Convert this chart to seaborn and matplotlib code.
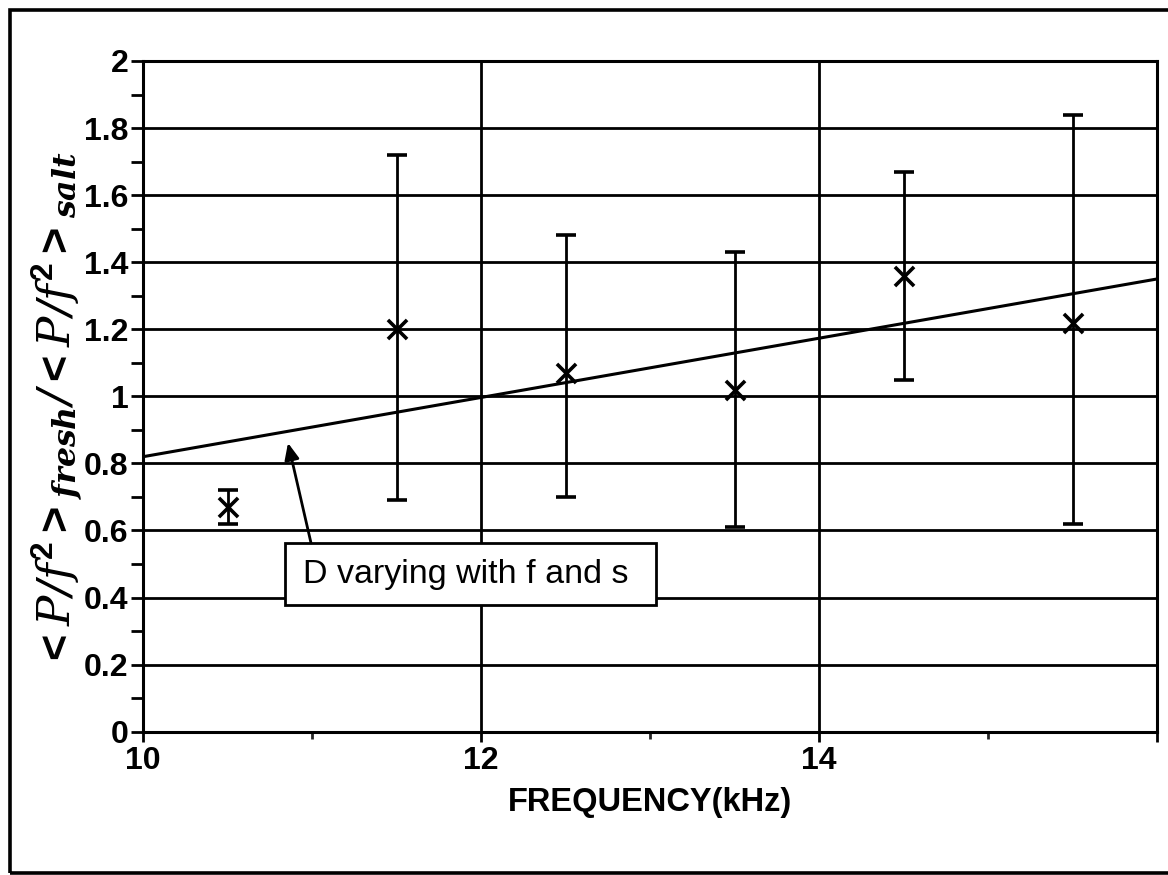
import matplotlib
matplotlib.use("Agg")
import matplotlib.pyplot as plt
from matplotlib.patches import Rectangle
import seaborn as sns
import pandas as pd

# Measured ratio of fresh to salt water <P/f^2> per frequency band
freq = [10.5, 11.5, 12.5, 13.5, 14.5, 15.5]
ratio = [0.67, 1.20, 1.07, 1.02, 1.36, 1.22]
err_low = [0.05, 0.51, 0.37, 0.41, 0.31, 0.60]
err_high = [0.05, 0.52, 0.41, 0.41, 0.31, 0.62]

# Model curve: D varying with f and s
fit_freq = [10.0, 16.0]
fit_ratio = [0.82, 1.35]

x_ticks = [10, 12, 14, 16]
x_tick_labels = ["10", "12", "14", ""]
y_ticks = [0, 0.2, 0.4, 0.6, 0.8, 1.0, 1.2, 1.4, 1.6, 1.8, 2.0]
y_tick_labels = ["0", "0.2", "0.4", "0.6", "0.8", "1", "1.2", "1.4", "1.6", "1.8", "2"]

sns.set_theme(style="white")
plt.rcParams["font.family"] = ["Liberation Sans", "DejaVu Sans"]
plt.rcParams["mathtext.fontset"] = "custom"
plt.rcParams["mathtext.rm"] = "Liberation Sans:bold"
plt.rcParams["mathtext.it"] = "DejaVu Serif:italic"
plt.rcParams["mathtext.bf"] = "DejaVu Serif:italic:bold"
plt.rcParams["mathtext.sf"] = "DejaVu Sans:italic"

W, H = 1168, 875
fig = plt.figure(figsize=(W / 100, H / 100), dpi=100)
ax = fig.add_axes([143 / W, 1 - 731.7 / H, (1157 - 143) / W, (731.7 - 61) / H])

df = pd.DataFrame({"freq": freq, "ratio": ratio})
fit_df = pd.DataFrame({"freq": fit_freq, "ratio": fit_ratio})

ax.errorbar(freq, ratio, yerr=[err_low, err_high], fmt="none", ecolor="black",
            elinewidth=2.0, capsize=7, capthick=2.6, zorder=3)
sns.scatterplot(data=df, x="freq", y="ratio", marker="x", s=190, color="black",
                linewidth=2.6, ax=ax, zorder=4)
sns.lineplot(data=fit_df, x="freq", y="ratio", color="black", linewidth=2.2,
             ax=ax, zorder=3)

ax.set_xlim(10, 16)
ax.set_ylim(0, 2)
ax.set_xticks(x_ticks)
ax.set_xticklabels(x_tick_labels)
ax.set_xticks([11, 13, 15], minor=True)
ax.set_yticks(y_ticks)
ax.set_yticklabels(y_tick_labels)
ax.set_yticks([v / 10 for v in range(1, 20, 2)], minor=True)

ax.grid(True, axis="both", which="major", color="black", linewidth=2.0)
for side in ["left", "right", "top", "bottom"]:
    ax.spines[side].set_visible(True)
    ax.spines[side].set_color("black")
    ax.spines[side].set_linewidth(2.2)

ax.tick_params(axis="y", which="both", direction="out", length=8.6, width=2.0,
               pad=2, left=True, labelsize=23, colors="black")
ax.tick_params(axis="x", which="major", direction="out", length=7, width=2.0,
               pad=3, bottom=True, labelsize=23, colors="black")
ax.tick_params(axis="x", which="minor", direction="out", length=5, width=2.0,
               bottom=True)
for lab in ax.get_xticklabels() + ax.get_yticklabels():
    lab.set_fontweight("bold")

ax.set_xlabel("FREQUENCY(kHz)", fontsize=23.5, fontweight="bold", labelpad=8,
              color="black")
ax.set_ylabel("")

# Callout box with its label and pointer to the model curve
ax.add_patch(Rectangle((10.84, 0.378), 13.035 - 10.84, 0.563 - 0.378,
                       fc="white", ec="black", lw=2.0, zorder=5))
ax.text(11.908, 0.470, "D varying with f and s", ha="center", va="center",
        fontsize=24.5, color="black", zorder=6)
ax.annotate("", xy=(10.858, 0.861), xytext=(10.994, 0.563),
            arrowprops=dict(arrowstyle="-|>,head_length=0.5,head_width=0.22",
                            mutation_scale=20, color="black", lw=2.0,
                            shrinkA=0, shrinkB=0),
            zorder=5)

fig.text(58 / W, 1 - 410 / H,
         r"$\mathrm{<}P\mathsf{/}f^{\mathrm{2}}\mathrm{>}_{\mathbf{fresh}}"
         r"\mathsf{/}\mathrm{<}P\mathsf{/}f^{\mathrm{2}}\mathrm{>}_{\mathbf{salt}}$",
         rotation=90, ha="center", va="center", fontsize=32.5, color="black")

# Outer frame around the figure (right side runs past the canvas)
fig.add_artist(Rectangle((10 / W, 1 - 873 / H), 1.2, (873 - 10) / H,
                         transform=fig.transFigure, fill=False, ec="black",
                         lw=2.6, clip_on=False))

fig.savefig("out.png", dpi=100)
